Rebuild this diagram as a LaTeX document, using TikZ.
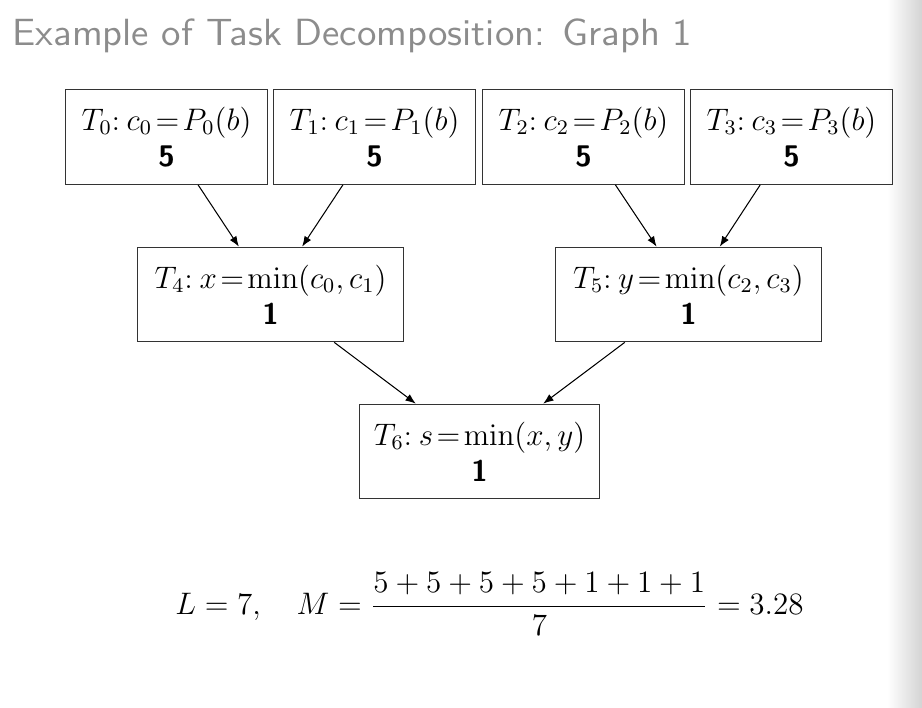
\documentclass[tikz,border=0pt]{standalone}
\usepackage{graphicx}
\usetikzlibrary{arrows.meta}
\begin{document}
\begin{tikzpicture}[x=0.38559pt,y=-0.38559pt,
  task/.style={draw=black!80,line width=0.4pt,align=center,inner sep=0pt,minimum height=36.5pt,font=\fontsize{11.5}{14}\selectfont},
  topbox/.style={task,minimum width=77.7pt},
  midbox/.style={task,minimum width=102.2pt},
  lowbox/.style={task,minimum width=92.9pt},
  dep/.style={-{Latex[length=4pt,width=3pt]},line width=0.4pt}]
\fill[white] (0,0) rectangle (922,708);
\shade[left color=white,right color=black!17] (887,0) rectangle (922,708);
\useasboundingbox (0,0) rectangle (922,708);
\node[anchor=base west,text=black!45,font=\fontsize{14.6}{17}\selectfont\sffamily,inner sep=0pt] (title) at (12,45) {\scalebox{1.048}[1]{Example of Task Decomposition: Graph 1}};
\newcommand{\eqq}{\mkern2mu{=}\mkern2mu}
\newcommand{\tcol}{:\hspace{2.6pt}}
\node[topbox] (t0) at (166.5,137) {$T_0$\tcol$c_0\eqq P_0(b)$\\{\sffamily\bfseries 5}};
\node[topbox] (t1) at (374.5,137) {$T_1$\tcol$c_1\eqq P_1(b)$\\{\sffamily\bfseries 5}};
\node[topbox] (t2) at (583.5,137) {$T_2$\tcol$c_2\eqq P_2(b)$\\{\sffamily\bfseries 5}};
\node[topbox] (t3) at (791.5,137) {$T_3$\tcol$c_3\eqq P_3(b)$\\{\sffamily\bfseries 5}};
\node[midbox] (t4) at (270.5,294.5) {$T_4$\tcol$x\eqq{\min}(c_0,c_1)$\\{\sffamily\bfseries 1}};
\node[midbox] (t5) at (688.5,294.5) {$T_5$\tcol$y\eqq{\min}(c_2,c_3)$\\{\sffamily\bfseries 1}};
\node[lowbox] (t6) at (479.5,451.5) {$T_6$\tcol$s\eqq{\min}(x,y)$\\{\sffamily\bfseries 1}};
\draw[dep] (t0) -- (t4);
\draw[dep] (t1) -- (t4);
\draw[dep] (t2) -- (t5);
\draw[dep] (t3) -- (t5);
\draw[dep] (t4) -- (t6);
\draw[dep] (t5) -- (t6);
\node[anchor=base,inner sep=0pt,font=\fontsize{11.8}{14}\selectfont] (formula) at (489.5,614) {$\displaystyle L=7,\quad M=\frac{5+5+5+5+1+1+1}{7}=3.28$};
\end{tikzpicture}
\end{document}
